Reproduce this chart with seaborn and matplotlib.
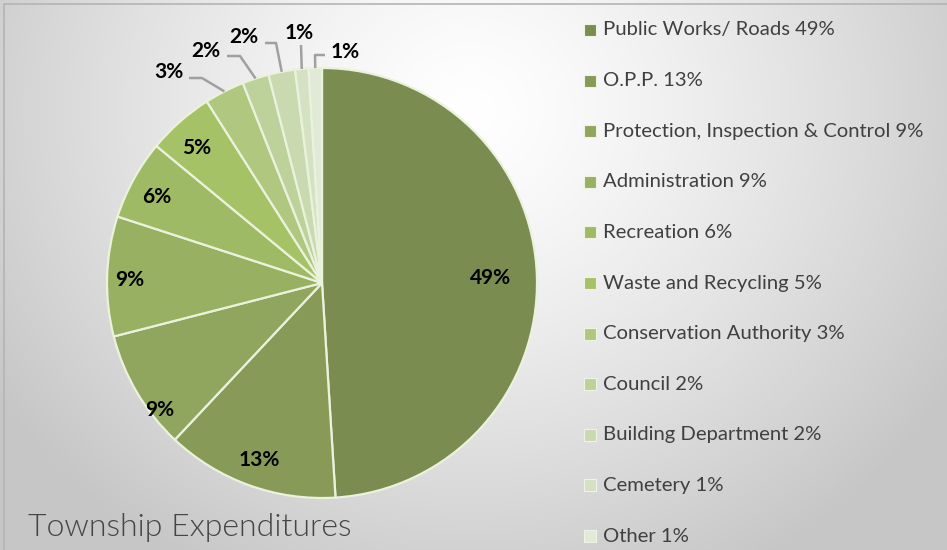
import numpy as np
import matplotlib
matplotlib.use("Agg")
import matplotlib.pyplot as plt
import seaborn as sns
from matplotlib.patches import Rectangle

sns.set_style("white")
plt.rcParams['font.family'] = ['Lato', 'DejaVu Sans']

# données du graphique
categories = ["Public Works/ Roads", "O.P.P.", "Protection, Inspection & Control",
              "Administration", "Recreation", "Waste and Recycling",
              "Conservation Authority", "Council", "Building Department",
              "Cemetery", "Other"]
values = [49, 13, 9, 9, 6, 5, 3, 2, 2, 1, 1]
colors = ["#7b8c50", "#879a58", "#90a55e", "#98b062", "#9fba65", "#a6c267",
          "#b0c77f", "#bdd19b", "#c9d9b0", "#d5e1c3", "#e1e9d7"]
title = "Township Expenditures"

W, H = 947, 550
fig = plt.figure(figsize=(W / 100, H / 100), dpi=100)
ax = fig.add_axes([0, 0, 1, 1])
ax.set_xlim(0, W)
ax.set_ylim(0, H)
ax.set_aspect("equal")
ax.axis("off")

# fond en dégradé radial
xx, yy = np.meshgrid(np.arange(W), np.arange(H))
d = np.sqrt(((xx - 470) / 560.0) ** 2 + ((yy - 110) / 520.0) ** 2)
g = np.clip(1.0 - 0.22 * d ** 1.3, 0.78, 1.0)
bg = np.dstack([g, g, g])
ax.imshow(bg, extent=(0, W, 0, H), origin="upper", zorder=0)
ax.add_patch(Rectangle((4, -10), W + 20, H - 4 + 10, fill=False,
                       edgecolor="#b4b4b4", lw=1.2, zorder=1))

# camembert (coordonnées en pixels, y vers le haut)
cx, cy, r = 322, H - 283, 215
wedges, _ = ax.pie(values, colors=colors, startangle=90, counterclock=False,
                   center=(cx, cy), radius=r, frame=True,
                   wedgeprops=dict(edgecolor="#eaf2dc", linewidth=1.6))
for w in wedges:
    w.set_zorder(2)
ax.set_xlim(0, W)
ax.set_ylim(0, H)
ax.axis("off")

# positions des étiquettes (pixels, depuis le haut)
label_pos = [(491, 278), (259, 460), (160, 410), (130, 280), (157, 197),
             (197, 148), (169, 72), (206, 51), (244, 37), (299, 33), (345, 52)]
# coudes des lignes de rappel pour les petites parts
elbows = {6: [(189, 78), (202, 78)], 7: [(227, 56), (240, 56)],
          8: [(265, 43), (276, 43)], 9: [(301, 45), (301, 45)],
          10: [(325, 55), (315, 55)]}

for i, (w, v) in enumerate(zip(wedges, values)):
    lx, ly = label_pos[i]
    ax.text(lx, H - ly, f"{v}%", ha="center", va="center", fontsize=15,
            fontweight="bold", color="black", zorder=5)
    if i in elbows:
        mid = np.deg2rad((w.theta1 + w.theta2) / 2)
        ex, ey = cx + r * np.cos(mid), cy + r * np.sin(mid)
        (p1x, p1y), (p2x, p2y) = elbows[i]
        ax.plot([p1x, p2x, ex], [H - p1y, H - p2y, ey], color="#a0a0a0",
                lw=1.8, zorder=4, solid_capstyle="butt")

# légende
for i, (c, v) in enumerate(zip(colors, values)):
    y = H - (30 + 50.6 * i)
    ax.add_patch(Rectangle((584, y - 6), 12, 12, facecolor=c,
                           edgecolor="#eef3e6", lw=0.8, zorder=3))
    ax.text(603, y, f"{categories[i]} {v}%", ha="left", va="center",
            fontsize=14.6, color="#404040", zorder=5)

ax.text(28, H - 527, title, ha="left", va="center", fontsize=23,
        color="#454545", fontweight=300, zorder=5)

fig.savefig("out.png", dpi=100)
